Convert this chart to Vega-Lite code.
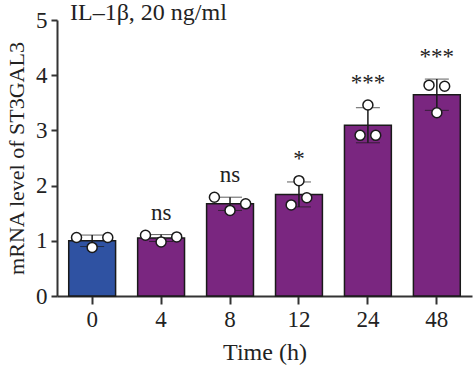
{
  "$schema": "https://vega.github.io/schema/vega-lite/v6.json",
  "autosize": {"type": "none"},
  "width": 415,
  "height": 276,
  "padding": {"left": 57, "top": 20, "right": 2, "bottom": 77},
  "background": "white",
  "title": {
    "text": "IL–1β, 20 ng/ml",
    "anchor": "start",
    "frame": "group",
    "font": "Liberation Serif",
    "fontSize": 24,
    "fontWeight": "normal",
    "color": "#222222",
    "dx": 13,
    "offset": -35,
    "baseline": "alphabetic"
  },
  "datasets": {
    "points": [
      {"time": "0", "rep": "a", "group": "control", "value": 1.06},
      {"time": "0", "rep": "c", "group": "control", "value": 0.88},
      {"time": "0", "rep": "e", "group": "control", "value": 1.06},
      {"time": "4", "rep": "a", "group": "treated", "value": 1.10},
      {"time": "4", "rep": "c", "group": "treated", "value": 0.98},
      {"time": "4", "rep": "e", "group": "treated", "value": 1.07},
      {"time": "8", "rep": "a", "group": "treated", "value": 1.79},
      {"time": "8", "rep": "c", "group": "treated", "value": 1.55},
      {"time": "8", "rep": "e", "group": "treated", "value": 1.67},
      {"time": "12", "rep": "b", "group": "treated", "value": 1.65},
      {"time": "12", "rep": "c", "group": "treated", "value": 2.09},
      {"time": "12", "rep": "d", "group": "treated", "value": 1.78},
      {"time": "24", "rep": "b", "group": "treated", "value": 2.91},
      {"time": "24", "rep": "c", "group": "treated", "value": 3.46},
      {"time": "24", "rep": "d", "group": "treated", "value": 2.91},
      {"time": "48", "rep": "b", "group": "treated", "value": 3.82},
      {"time": "48", "rep": "c", "group": "treated", "value": 3.32},
      {"time": "48", "rep": "d", "group": "treated", "value": 3.80}
    ],
    "sig": [
      {"time": "4", "label": "ns"},
      {"time": "8", "label": "ns"},
      {"time": "12", "label": "*"},
      {"time": "24", "label": "***"},
      {"time": "48", "label": "***"}
    ]
  },
  "data": {"name": "points"},
  "encoding": {
    "x": {
      "field": "time",
      "type": "ordinal",
      "sort": ["0", "4", "8", "12", "24", "48"],
      "scale": {"paddingInner": 0.32, "paddingOuter": 0.17},
      "axis": {"title": "Time (h)", "labelAngle": 0, "labelPadding": 4, "titlePadding": 9, "tickSize": 8, "titleFontSize": 24}
    }
  },
  "layer": [
    {
      "mark": {"type": "bar", "stroke": "#1a1a1a", "strokeWidth": 1.5},
      "encoding": {
        "y": {
          "aggregate": "mean",
          "field": "value",
          "type": "quantitative",
          "title": "mRNA level of ST3GAL3",
          "scale": {"domain": [0, 5]},
          "axis": {"values": [0, 1, 2, 3, 4, 5], "labelPadding": 4, "titlePadding": 7, "titleFontSize": 22}
        },
        "color": {
          "field": "group",
          "type": "nominal",
          "scale": {"domain": ["control", "treated"], "range": ["#2F52A2", "#7A2680"]},
          "legend": null
        }
      }
    },
    {
      "mark": {
        "type": "errorbar",
        "extent": "stdev",
        "color": "#1a1a1a",
        "rule": {"strokeWidth": 1.5},
        "ticks": {"size": 24, "strokeWidth": 1.5, "color": "#1a1a1a"}
      },
      "encoding": {
        "y": {"field": "value", "type": "quantitative", "title": "mRNA level of ST3GAL3"}
      }
    },
    {
      "mark": {"type": "point", "filled": true, "fill": "white", "stroke": "#1a1a1a", "strokeWidth": 1.5, "size": 100, "opacity": 1},
      "encoding": {
        "y": {"field": "value", "type": "quantitative", "title": "mRNA level of ST3GAL3"},
        "xOffset": {
          "field": "rep",
          "type": "nominal",
          "scale": {"domain": ["a", "b", "c", "d", "e"], "paddingInner": 0, "paddingOuter": 1.4}
        }
      }
    },
    {
      "transform": [
        {"aggregate": [
          {"op": "mean", "field": "value", "as": "m"},
          {"op": "stdev", "field": "value", "as": "sd"},
          {"op": "max", "field": "value", "as": "mx"}
        ], "groupby": ["time"]},
        {"calculate": "max(datum.mx, datum.m + datum.sd)", "as": "top"},
        {"lookup": "time", "from": {"data": {"name": "sig"}, "key": "time", "fields": ["label"]}},
        {"filter": "datum.label != null"}
      ],
      "mark": {"type": "text", "font": "Liberation Serif", "fontSize": 23, "color": "#222222", "baseline": "alphabetic", "dy": -15},
      "encoding": {
        "y": {"field": "top", "type": "quantitative", "title": "mRNA level of ST3GAL3"},
        "text": {"field": "label"}
      }
    }
  ],
  "resolve": {"scale": {"xOffset": "independent"}},
  "config": {
    "view": {"stroke": null},
    "axis": {
      "grid": false,
      "domainColor": "#333333",
      "domainWidth": 2,
      "tickColor": "#333333",
      "tickWidth": 2,
      "tickSize": 6,
      "labelFont": "Liberation Serif",
      "labelFontSize": 23,
      "labelColor": "#222222",
      "titleFont": "Liberation Serif",
      "titleFontSize": 23,
      "titleFontWeight": "normal",
      "titleColor": "#222222"
    }
  }
}
